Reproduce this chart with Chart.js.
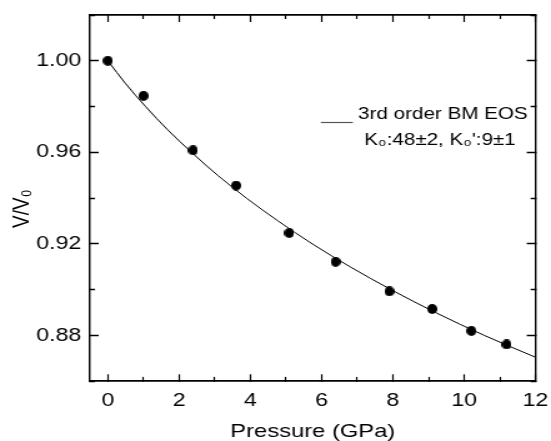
<!DOCTYPE html>
<html><head><meta charset="utf-8">
<script src="https://cdn.jsdelivr.net/npm/chart.js@4"></script>
<style>html,body{margin:0;padding:0;background:#fff}canvas{display:block}</style>
</head><body>
<canvas id="c" width="441" height="441" style="width:551px;height:441px"></canvas>
<script>
// Measured data points (Pressure in GPa, V/V0)
const pressure = [0, 1.0, 2.39, 3.6, 5.09, 6.39, 7.9, 9.1, 10.2, 11.19];
const volume = [1.000, 0.9847, 0.9609, 0.9455, 0.9248, 0.9122, 0.8993, 0.8916, 0.8820, 0.8761];
// Fitted 3rd order BM EOS curve
const fitPressure = [0, 0.50, 1.06, 1.67, 2.35, 3.08, 3.89, 4.78, 5.74, 6.80, 7.95, 9.20, 10.57, 12.0];
const fitVolume = [1.000, 0.990, 0.980, 0.970, 0.960, 0.950, 0.940, 0.930, 0.920, 0.910, 0.900, 0.890, 0.880, 0.8705];
// Tick labels
const xTickLabels = [0, 2, 4, 6, 8, 10, 12];
const yTickLabels = ['0.88', '0.92', '0.96', '1.00'];
const xTitle = 'Pressure (GPa)';
const yTitle = 'V/V\u2080';
const legendLines = ['3rd order BM EOS', 'K\u2080:48\u00b12, K\u2080\':9\u00b11'];

const FONT = "'Liberation Sans', Arial, Helvetica, sans-serif";
const SX = 551 / 441; // horizontal stretch applied by CSS

// point marker image (pre-compressed horizontally so it appears round)
const dot = document.createElement('canvas');
dot.width = 8; dot.height = 10;
(function(){
  const g = dot.getContext('2d');
  g.fillStyle = '#000';
  g.beginPath();
  g.ellipse(4, 5, 4, 5, 0, 0, Math.PI * 2);
  g.fill();
})();

const TL = 7;      // major tick length (inward)
const MINOR = 4;   // minor tick length
function startDash(hw){ return [MINOR + hw, 200]; }
function endDash(hw){ return [0, TL - MINOR, MINOR + hw, 200]; }

const xBW = 1.8, yBW = 1.4;
function isMajorX(v){ return xTickLabels.some(t => Math.abs(t - v) < 1e-6); }
function labelY(v){ const s = v.toFixed(2); return yTickLabels.includes(s) ? s : ''; }
function isMajorY(v){ return labelY(v) !== ''; }

function xGrid(kind){
  return {
    drawOnChartArea: false, drawTicks: true, tickLength: -TL,
    tickColor: '#000', tickWidth: 1.2,
    tickBorderDash: c => isMajorX(c.tick.value) ? [] : (kind === 'start' ? startDash(xBW/2) : endDash(xBW/2))
  };
}
function yGrid(kind){
  return {
    drawOnChartArea: false, drawTicks: true, tickLength: -TL,
    tickColor: '#000', tickWidth: 1.5,
    tickBorderDash: c => isMajorY(c.tick.value) ? [] : (kind === 'start' ? startDash(yBW/2) : endDash(yBW/2))
  };
}
function zeroPad(s){ s.paddingLeft = 0; s.paddingRight = 0; s.paddingTop = 0; s.paddingBottom = 0; }

const legendPlugin = {
  id: 'fitLegend',
  afterDraw(chart){
    const {ctx, chartArea: a} = chart;
    ctx.save();
    ctx.strokeStyle = '#555';
    ctx.lineWidth = 1.2;
    ctx.beginPath();
    ctx.moveTo(a.right - 171.8, a.top + 107.5);
    ctx.lineTo(a.right - 146.2, a.top + 107.5);
    ctx.stroke();
    ctx.fillStyle = '#000';
    ctx.font = '16.5px ' + FONT;
    ctx.textAlign = 'left';
    ctx.textBaseline = 'alphabetic';
    ctx.fillText(legendLines[0], a.right - 142, a.top + 104.3);
    ctx.fillText(legendLines[1], a.right - 137, a.top + 130);
    ctx.restore();
  }
};

new Chart(document.getElementById('c'), {
  data: {
    datasets: [
      {
        type: 'line',
        label: 'fit',
        data: fitPressure.map((p, i) => ({x: p, y: fitVolume[i]})),
        borderColor: '#000', borderWidth: 1,
        pointRadius: 0, fill: false,
        cubicInterpolationMode: 'monotone',
        xAxisID: 'x', yAxisID: 'y', order: 2
      },
      {
        type: 'scatter',
        label: 'data',
        data: pressure.map((p, i) => ({x: p, y: volume[i]})),
        pointStyle: dot, pointRadius: 5,
        backgroundColor: '#000', borderColor: '#000',
        xAxisID: 'x', yAxisID: 'y', order: 1
      }
    ]
  },
  options: {
    responsive: false, animation: false, devicePixelRatio: 1,
    layout: {padding: {left: 0, top: 15, right: 12.4, bottom: 0}},
    plugins: {legend: {display: false}, tooltip: {enabled: false}},
    scales: {
      x: {
        type: 'linear', position: 'bottom', min: -0.5, max: 12,
        ticks: {
          stepSize: 1, includeBounds: false, autoSkip: false, maxRotation: 0,
          padding: 17.3, color: '#000',
          font: {family: FONT, size: 18.5, lineHeight: 1},
          callback: v => isMajorX(v) ? String(v) : ''
        },
        grid: xGrid('start'),
        border: {display: true, color: '#000', width: xBW},
        title: {display: true, text: xTitle, color: '#000',
          font: {family: FONT, size: 19, lineHeight: 1}, padding: {top: 0, bottom: 0}},
        afterFit: s => { s.height = 441 - 381.3; zeroPad(s); }
      },
      x2: {
        type: 'linear', position: 'top', min: -0.5, max: 12,
        ticks: {display: false, stepSize: 1, includeBounds: false, autoSkip: false},
        grid: xGrid('end'),
        border: {display: true, color: '#000', width: xBW},
        afterFit: s => { s.height = 0; zeroPad(s); }
      },
      y: {
        type: 'linear', position: 'left', min: 0.86, max: 1.02,
        ticks: {
          stepSize: 0.02, includeBounds: false, autoSkip: false,
          padding: 14, color: '#000',
          font: {family: FONT, size: 18.5, lineHeight: 1},
          callback: v => labelY(v)
        },
        grid: yGrid('end'),
        border: {display: true, color: '#000', width: yBW},
        title: {display: true, text: yTitle + '    ', color: '#000',
          font: {family: FONT, size: 19, lineHeight: 1}, padding: {top: 8, bottom: 0}},
        afterFit: s => { s.width = 90 / SX; zeroPad(s); }
      },
      y2: {
        type: 'linear', position: 'right', min: 0.86, max: 1.02,
        ticks: {display: false, stepSize: 0.02, includeBounds: false, autoSkip: false},
        grid: yGrid('start'),
        border: {display: true, color: '#000', width: yBW},
        afterFit: s => { s.width = 0; zeroPad(s); }
      }
    }
  },
  plugins: [legendPlugin]
});
</script>
</body></html>
